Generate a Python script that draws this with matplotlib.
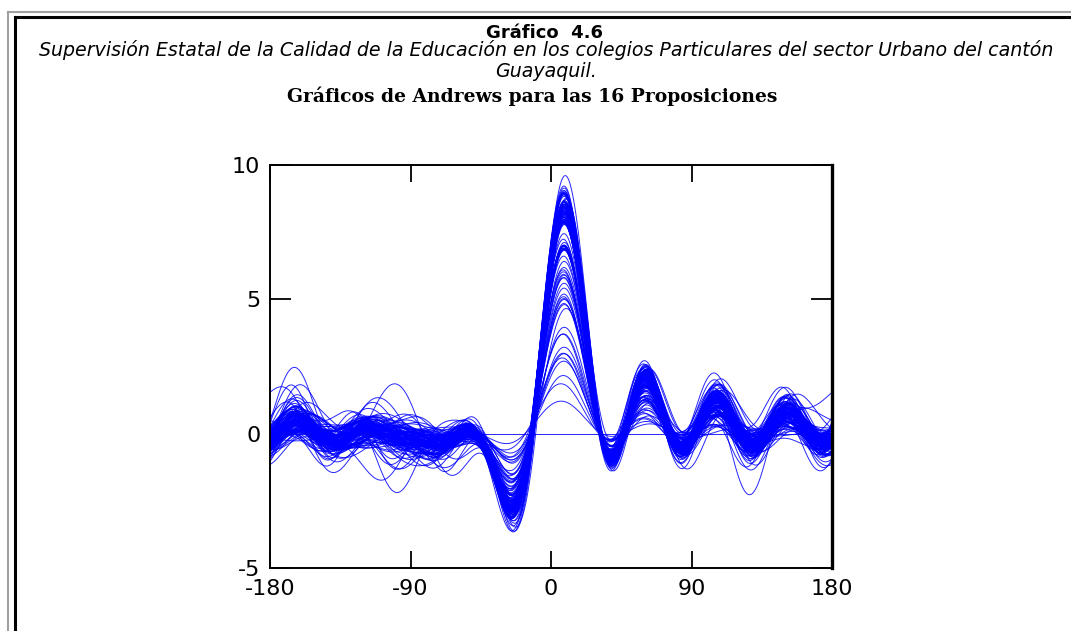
import numpy as np
import matplotlib
matplotlib.use("Agg")
import matplotlib.pyplot as plt
from matplotlib.lines import Line2D

# ---- data: scores (0-10) of each school on the 16 propositions ----
scores = [
    [9, 7, 10, 6, 9, 8, 8, 7, 10, 6, 9, 8, 9, 7, 10, 6],
    [8, 8, 9, 6, 10, 7, 9, 8, 8, 7, 10, 6, 9, 8, 9, 7],
    [10, 6, 9, 8, 8, 7, 10, 6, 9, 7, 9, 8, 10, 6, 8, 7],
    [9, 8, 8, 7, 9, 6, 9, 8, 10, 7, 8, 7, 9, 8, 9, 6],
    [8, 7, 10, 7, 9, 8, 9, 6, 9, 8, 10, 7, 8, 7, 10, 8],
    [9, 6, 9, 8, 10, 7, 8, 7, 9, 6, 9, 8, 10, 6, 9, 7],
    [10, 7, 8, 7, 9, 8, 10, 7, 8, 8, 9, 6, 9, 7, 8, 8],
    [9, 8, 9, 6, 8, 7, 9, 8, 10, 7, 9, 7, 8, 8, 9, 7],
    [8, 7, 9, 8, 9, 6, 10, 7, 9, 7, 8, 8, 9, 6, 10, 7],
    [9, 7, 10, 7, 8, 8, 9, 6, 9, 8, 10, 7, 9, 7, 9, 6],
    [9, 9, 9, 8, 10, 8, 9, 9, 8, 8, 9, 9, 10, 8, 9, 8],
    [10, 8, 9, 7, 9, 7, 10, 8, 9, 6, 9, 7, 10, 8, 9, 7],
    [8, 6, 9, 7, 9, 7, 8, 6, 10, 7, 9, 6, 9, 7, 8, 7],
    [9, 7, 8, 8, 10, 6, 9, 7, 9, 8, 8, 7, 10, 7, 9, 8],
    [9, 8, 10, 7, 9, 7, 9, 7, 8, 7, 10, 8, 9, 6, 10, 7],
    [8, 6, 8, 7, 9, 5, 8, 6, 7, 7, 8, 6, 9, 5, 8, 6],
    [7, 7, 9, 6, 8, 6, 7, 7, 8, 5, 9, 7, 8, 6, 7, 6],
    [8, 5, 8, 6, 7, 7, 9, 6, 8, 6, 8, 5, 8, 7, 9, 6],
    [9, 6, 7, 7, 8, 6, 8, 5, 9, 7, 7, 6, 8, 6, 8, 7],
    [8, 7, 8, 5, 9, 6, 8, 7, 8, 6, 9, 6, 7, 6, 8, 5],
    [7, 6, 9, 6, 8, 7, 7, 6, 8, 7, 8, 6, 9, 5, 8, 6],
    [8, 6, 8, 7, 7, 6, 9, 6, 9, 5, 8, 7, 8, 6, 7, 7],
    [9, 5, 8, 6, 8, 6, 8, 7, 7, 6, 9, 6, 8, 7, 9, 5],
    [8, 7, 7, 6, 9, 5, 8, 6, 8, 7, 8, 6, 7, 6, 8, 6],
    [7, 6, 8, 7, 8, 7, 9, 5, 8, 6, 7, 7, 9, 6, 8, 6],
    [8, 6, 9, 5, 8, 6, 7, 7, 9, 6, 8, 5, 8, 7, 8, 7],
    [9, 7, 8, 6, 7, 6, 8, 6, 8, 7, 9, 6, 8, 5, 9, 6],
    [8, 6, 8, 6, 8, 7, 8, 6, 7, 6, 8, 7, 9, 6, 7, 6],
    [7, 7, 9, 7, 8, 5, 9, 7, 8, 6, 8, 6, 8, 7, 8, 5],
    [8, 5, 8, 6, 9, 6, 8, 6, 9, 6, 7, 6, 8, 6, 9, 7],
    [7, 5, 7, 6, 8, 5, 6, 6, 7, 5, 8, 6, 7, 4, 7, 6],
    [6, 6, 8, 5, 7, 6, 7, 5, 8, 6, 6, 5, 7, 6, 8, 5],
    [7, 5, 7, 5, 6, 6, 8, 5, 7, 6, 7, 4, 8, 5, 6, 6],
    [8, 6, 6, 6, 7, 4, 7, 6, 7, 5, 7, 6, 6, 6, 7, 5],
    [7, 4, 7, 6, 8, 5, 7, 5, 6, 6, 8, 5, 7, 5, 7, 6],
    [6, 6, 7, 5, 7, 6, 8, 6, 7, 4, 7, 6, 7, 6, 8, 5],
    [7, 5, 8, 6, 6, 5, 7, 5, 8, 6, 7, 5, 8, 5, 6, 6],
    [7, 6, 7, 4, 7, 6, 6, 6, 7, 5, 8, 6, 7, 6, 7, 4],
    [8, 5, 7, 6, 7, 5, 7, 6, 6, 6, 7, 5, 7, 4, 8, 6],
    [6, 6, 8, 5, 7, 6, 7, 5, 7, 5, 7, 6, 6, 6, 7, 5],
    [6, 5, 6, 4, 7, 4, 6, 5, 5, 5, 6, 4, 7, 5, 6, 4],
    [5, 4, 7, 5, 5, 5, 6, 4, 6, 4, 7, 5, 5, 4, 6, 5],
    [6, 5, 5, 4, 6, 5, 7, 4, 6, 5, 5, 5, 6, 4, 7, 4],
    [7, 4, 6, 5, 6, 4, 5, 5, 7, 4, 6, 4, 6, 5, 5, 5],
    [5, 5, 6, 4, 5, 5, 6, 4, 6, 5, 6, 5, 5, 4, 6, 4],
    [6, 3, 5, 5, 6, 4, 6, 4, 5, 4, 5, 4, 6, 5, 5, 4],
    [4, 4, 5, 4, 5, 3, 5, 5, 4, 4, 6, 4, 5, 3, 5, 4],
    [6, 4, 5, 3, 5, 4, 4, 4, 5, 3, 5, 5, 4, 4, 5, 3],
    [4, 3, 4, 3, 5, 3, 4, 2, 4, 3, 4, 4, 3, 3, 4, 3],
    [4, 3, 3, 4, 4, 2, 4, 3, 5, 3, 3, 3, 4, 3, 4, 2],
    [3, 2, 4, 3, 3, 3, 3, 2, 3, 3, 4, 2, 3, 2, 3, 3],
    [3, 3, 3, 2, 3, 2, 4, 3, 2, 2, 3, 2, 3, 3, 3, 2],
    [2, 2, 2, 1, 3, 2, 2, 2, 2, 1, 2, 2, 3, 1, 2, 2],
    [2, 1, 2, 2, 2, 1, 2, 1, 3, 1, 2, 1, 2, 1, 2, 1],
    [1, 1, 2, 1, 1, 1, 2, 0, 1, 1, 1, 1, 2, 1, 1, 0],
    [0, 0, 0, 0, 0, 0, 0, 0, 0, 0, 0, 0, 0, 0, 0, 0],
    [8, 9, 6, 9, 5, 8, 10, 7, 9, 6, 8, 10, 5, 9, 7, 8],
    [7, 6, 9, 7, 10, 6, 8, 9, 6, 10, 7, 6, 9, 8, 6, 9],
    [9, 8, 7, 10, 8, 5, 7, 9, 10, 6, 8, 9, 6, 7, 10, 7],
    [6, 10, 8, 6, 9, 7, 5, 10, 8, 6, 9, 5, 8, 10, 6, 7],
    [8, 7, 10, 8, 6, 10, 8, 6, 7, 10, 5, 8, 9, 6, 10, 8],
    [7, 9, 8, 5, 10, 8, 9, 6, 8, 9, 10, 7, 6, 8, 5, 9],
    [10, 6, 7, 9, 7, 9, 6, 8, 10, 5, 7, 9, 8, 6, 8, 10],
    [5, 8, 9, 8, 7, 6, 10, 8, 5, 8, 9, 6, 10, 7, 9, 6],
    [8, 5, 9, 7, 7, 8, 10, 4, 9, 7, 6, 8, 10, 6, 8, 5],
    [9, 7, 6, 5, 10, 7, 9, 8, 7, 4, 10, 7, 8, 5, 9, 8],
    [7, 8, 10, 6, 8, 4, 9, 7, 10, 8, 9, 5, 7, 8, 10, 6],
    [6, 6, 8, 7, 10, 6, 7, 5, 9, 7, 10, 8, 6, 5, 9, 7],
    [10, 7, 8, 5, 9, 7, 8, 6, 10, 6, 7, 8, 9, 7, 6, 9],
    [8, 4, 9, 6, 8, 9, 7, 6, 8, 5, 9, 6, 10, 8, 7, 5],
    [5, 6, 7, 3, 8, 5, 6, 7, 4, 6, 8, 5, 7, 3, 6, 6],
    [7, 3, 6, 5, 7, 7, 5, 4, 8, 5, 6, 3, 7, 6, 5, 4],
    [4, 5, 3, 6, 5, 2, 6, 4, 5, 3, 4, 6, 3, 5, 4, 3],
    [3, 2, 5, 4, 3, 4, 2, 3, 5, 2, 4, 3, 4, 2, 5, 3],
    [9, 7, 9, 6, 8, 7, 9, 7, 9, 7, 8, 7, 9, 6, 9, 7],
    [8, 7, 8, 7, 9, 6, 9, 7, 8, 7, 9, 7, 8, 7, 9, 6],
    [9, 6, 9, 7, 9, 7, 8, 7, 9, 6, 9, 7, 9, 7, 8, 7],
    [8, 7, 9, 7, 8, 7, 9, 6, 9, 7, 8, 6, 9, 7, 9, 7],
    [9, 7, 8, 6, 9, 7, 9, 7, 8, 7, 9, 7, 8, 6, 9, 7],
    [8, 6, 9, 7, 9, 6, 8, 7, 9, 7, 9, 6, 9, 7, 8, 6],
    [7, 8, 6, 5, 9, 6, 7, 4, 8, 7, 6, 5, 8, 7, 9, 4],
    [8, 5, 9, 8, 6, 7, 9, 6, 7, 4, 9, 8, 7, 5, 8, 7],
    [6, 7, 8, 4, 8, 8, 6, 7, 9, 5, 7, 7, 9, 4, 7, 6],
    [9, 6, 7, 7, 8, 5, 8, 8, 6, 6, 9, 4, 8, 7, 6, 8],
    [5, 4, 6, 6, 7, 3, 8, 5, 6, 6, 5, 4, 7, 5, 6, 3],
    [6, 5, 7, 3, 5, 6, 6, 4, 8, 4, 7, 6, 5, 3, 7, 5],
    [8, 7, 9, 5, 7, 8, 8, 5, 9, 7, 8, 6, 7, 8, 9, 5],
    [7, 6, 8, 8, 9, 5, 7, 7, 8, 4, 9, 7, 8, 5, 8, 7],
    [8, 5, 10, 7, 7, 8, 9, 5, 8, 6, 10, 7, 7, 5, 9, 8],
    [9, 8, 7, 5, 9, 6, 10, 8, 7, 7, 8, 5, 10, 7, 8, 6],
    [7, 6, 9, 8, 10, 5, 7, 6, 9, 8, 7, 7, 8, 4, 10, 6],
    [10, 7, 8, 6, 7, 7, 9, 4, 10, 6, 8, 8, 9, 7, 7, 5],
    [8, 4, 9, 7, 8, 6, 10, 7, 7, 5, 9, 6, 8, 8, 10, 7],
    [6, 7, 10, 5, 9, 8, 8, 6, 9, 7, 10, 5, 7, 6, 9, 8],
    [9, 6, 8, 8, 10, 5, 7, 7, 8, 8, 9, 6, 10, 5, 8, 6],
    [8, 8, 9, 4, 8, 7, 9, 8, 10, 5, 8, 7, 9, 7, 7, 4],
    [7, 5, 8, 7, 9, 6, 10, 5, 8, 7, 9, 8, 8, 6, 9, 7],
    [10, 6, 9, 6, 8, 8, 8, 7, 9, 4, 10, 6, 7, 8, 9, 6],
    [9, 7, 10, 8, 7, 6, 9, 6, 8, 7, 8, 5, 9, 6, 10, 7],
    [8, 6, 7, 6, 10, 7, 8, 8, 9, 6, 9, 7, 10, 5, 8, 8],
    [7, 8, 9, 5, 8, 4, 9, 7, 10, 8, 7, 6, 9, 7, 8, 5],
    [9, 5, 8, 7, 9, 7, 7, 6, 8, 6, 10, 8, 8, 4, 9, 7],
    [8, 7, 10, 6, 7, 6, 10, 7, 9, 5, 8, 6, 9, 8, 7, 6],
    [7, 4, 8, 6, 6, 7, 8, 5, 7, 4, 8, 6, 7, 7, 6, 5],
    [6, 7, 7, 4, 8, 5, 6, 6, 8, 7, 6, 5, 8, 4, 7, 7],
    [8, 5, 6, 7, 7, 4, 9, 6, 6, 5, 8, 7, 6, 5, 8, 4],
    [7, 6, 8, 5, 6, 6, 7, 4, 8, 6, 7, 4, 8, 6, 6, 6],
    [5, 5, 7, 6, 8, 5, 6, 7, 7, 5, 6, 6, 7, 3, 8, 5],
    [7, 3, 6, 5, 7, 7, 8, 5, 6, 7, 8, 5, 6, 6, 7, 4],
    [8, 6, 7, 7, 5, 5, 7, 6, 8, 4, 7, 6, 8, 5, 6, 7],
    [6, 5, 8, 4, 7, 6, 6, 5, 7, 6, 8, 4, 6, 7, 8, 5],
    [5, 3, 6, 5, 4, 4, 6, 3, 5, 5, 6, 3, 4, 4, 6, 5],
    [4, 5, 5, 3, 6, 4, 4, 5, 6, 3, 5, 5, 6, 3, 4, 4],
    [6, 4, 4, 4, 5, 5, 6, 3, 4, 4, 6, 4, 5, 5, 5, 3],
    [5, 2, 6, 4, 5, 3, 5, 5, 6, 2, 4, 5, 6, 4, 5, 4],
    [3, 2, 4, 1, 3, 3, 2, 2, 4, 3, 2, 1, 4, 2, 3, 3],
    [2, 3, 2, 2, 4, 1, 3, 3, 2, 1, 4, 3, 2, 3, 3, 1],
    [4, 1, 3, 3, 2, 2, 4, 1, 3, 3, 3, 2, 2, 1, 4, 2],
    [8, 5, 10, 9, 10, 7, 6, 5, 10, 9, 8, 5, 6, 6, 10, 9],
    [8, 5, 6, 9, 10, 5, 6, 9, 10, 5, 7, 9, 8, 5, 10, 9],
    [8, 5, 8, 9, 6, 9, 10, 5, 10, 5, 6, 9, 6, 9, 10, 5],
    [8, 9, 8, 5, 10, 5, 6, 9, 6, 9, 10, 5, 10, 5, 6, 9],
    [8, 8, 7, 6, 7, 6, 9, 8, 9, 8, 7, 6, 7, 6, 9, 8],
    [9, 7, 5, 7, 10, 7, 5, 7, 10, 7, 5, 7, 10, 7, 6, 7],
]
score_scale = 10.0

x_ticks = [-180, -90, 0, 90, 180]
y_ticks = [-5, 0, 5, 10]

title_top = "Gráfico  4.6"
subtitle_1 = ("Supervisión Estatal de la Calidad de la Educación en los colegios "
              "Particulares del sector Urbano del cantón")
subtitle_2 = "Guayaquil."
title_main = "Gráficos de Andrews para las 16 Proposiciones"

# ---- figure ----
W, H, DPI = 1071, 631, 100
fig = plt.figure(figsize=(W / DPI, H / DPI), dpi=DPI)

def fx(px):
    return px / W

def fy(py):
    return 1 - py / H

# outer frame (gray + black)
gray = "#a0a0a0"
fig.add_artist(Line2D([fx(8), fx(8)], [fy(12), fy(H + 5)], color=gray, lw=1.5,
                      transform=fig.transFigure))
fig.add_artist(Line2D([fx(8), fx(W + 5)], [fy(12), fy(12)], color=gray, lw=1.5,
                      transform=fig.transFigure))
fig.add_artist(Line2D([fx(15), fx(15)], [fy(17), fy(H + 5)], color="black", lw=2.2,
                      transform=fig.transFigure))
fig.add_artist(Line2D([fx(15), fx(W + 5)], [fy(17), fy(17)], color="black", lw=2.2,
                      transform=fig.transFigure))

fig.text(fx(545), fy(38), title_top, ha="center", va="baseline",
         family="DejaVu Sans", weight="bold", fontsize=13)
fig.text(fx(546), fy(56), subtitle_1, ha="center", va="baseline",
         family="DejaVu Sans", style="oblique", fontsize=13.7)
fig.text(fx(546), fy(77), subtitle_2, ha="center", va="baseline",
         family="DejaVu Sans", style="oblique", fontsize=13.7)
fig.text(fx(532), fy(102), title_main, ha="center", va="baseline",
         family="DejaVu Serif", weight="bold", fontsize=13.5)

ax_left, ax_right, ax_top, ax_bottom = 270, 832, 165, 568
ax = fig.add_axes([fx(ax_left), fy(ax_bottom), fx(ax_right - ax_left),
                   (ax_bottom - ax_top) / H])

# Andrews curves
t_deg = np.linspace(-180, 180, 721)
t = np.deg2rad(t_deg)
basis = [np.full_like(t, 1 / np.sqrt(2))]
for k in range(1, 9):
    basis.append(np.sin(k * t))
    basis.append(np.cos(k * t))
basis = np.array(basis[:16])
data = np.array(scores, dtype=float) / score_scale
for row in data:
    ax.plot(t_deg, row @ basis, color="#0000ff", lw=0.7, alpha=0.85)

ax.set_xlim(-180, 180)
ax.set_ylim(-5, 10)
ax.set_xticks(x_ticks)
ax.set_yticks(y_ticks)
ax.set_xticklabels([str(v) for v in x_ticks])
ax.set_yticklabels([str(v) for v in y_ticks])
ax.tick_params(direction="in", top=True, right=True, length=12, width=1.3,
               labelsize=16, pad=8)
ax.tick_params(axis="y", length=15, pad=7)
for lab in ax.get_xticklabels() + ax.get_yticklabels():
    lab.set_family("DejaVu Sans")
for side in ["left", "bottom", "top"]:
    ax.spines[side].set_linewidth(1.4)
ax.spines["right"].set_linewidth(2.4)

fig.savefig("out.png", dpi=DPI)
